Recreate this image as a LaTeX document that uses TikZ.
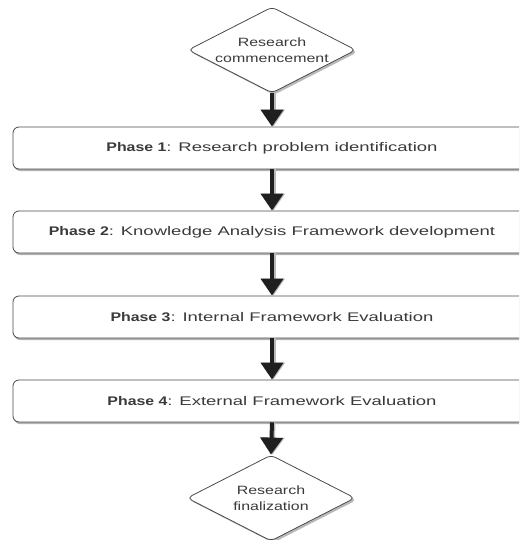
\documentclass[tikz,border=0pt]{standalone}
\usepackage{fontspec}
\setmainfont{Liberation Sans}
\usetikzlibrary{shapes.geometric,shadows,arrows.meta}

\definecolor{ink}{HTML}{3A3A3A}
\definecolor{edge}{HTML}{4A4A4A}

% horizontally widened text
\newcommand{\wide}[2]{\scalebox{#1}[1]{#2}}
\newcommand{\phaselabel}[2]{\wide{1.27}{\textbf{Phase #1}}\wide{1.48}{: #2}}
\newcommand{\termlabel}[2]{\wide{1.33}{#1}\\\wide{1.33}{#2}}

\begin{document}
\begin{tikzpicture}[x=1pt,y=-1pt,
  phasebox/.style={draw=edge, line width=0.8pt, fill=white, rounded corners=6pt,
    minimum width=518pt, minimum height=42pt, inner sep=0pt, text=ink,
    font=\fontsize{12.5}{15}\selectfont,
    drop shadow={shadow xshift=1pt, shadow yshift=-2pt, fill=gray!60, opacity=1}},
  terminal/.style={diamond, aspect=2, draw=edge, line width=0.8pt, fill=white,
    rounded corners=5pt, minimum width=168pt, minimum height=86pt, inner sep=0pt,
    text=ink, align=center, font=\fontsize{12}{16.5}\selectfont,
    drop shadow={shadow xshift=2pt, shadow yshift=-2pt, fill=gray!55, opacity=1}},
  flowshade/.style={line width=4pt, draw=gray!55,
    -{Triangle[width=22pt,length=17pt]}, transform canvas={xshift=1.5pt}},
  flow/.style={line width=4pt, draw=black!88,
    -{Triangle[width=22pt,length=17pt]}},
]
\path[use as bounding box, clip] (0,0) rectangle (519,540);

\node[terminal] (start) at (272,50) {\termlabel{Research}{commencement}};
\node[phasebox] (p1) at (272,148) {\phaselabel{1}{Research problem identification}};
\node[phasebox] (p2) at (272,232) {\phaselabel{2}{Knowledge Analysis Framework development}};
\node[phasebox] (p3) at (272,317) {\phaselabel{3}{Internal Framework Evaluation}};
\node[phasebox] (p4) at (272,401) {\phaselabel{4}{External Framework Evaluation}};
\node[terminal] (end) at (271,498) {\termlabel{Research}{finalization}};

\foreach \a/\b in {start/p1, p1/p2, p2/p3, p3/p4, p4/end} {
  \draw[flowshade] (\a.south) -- (\b.north);
  \draw[flow] (\a.south) -- (\b.north);
}
\end{tikzpicture}
\end{document}
